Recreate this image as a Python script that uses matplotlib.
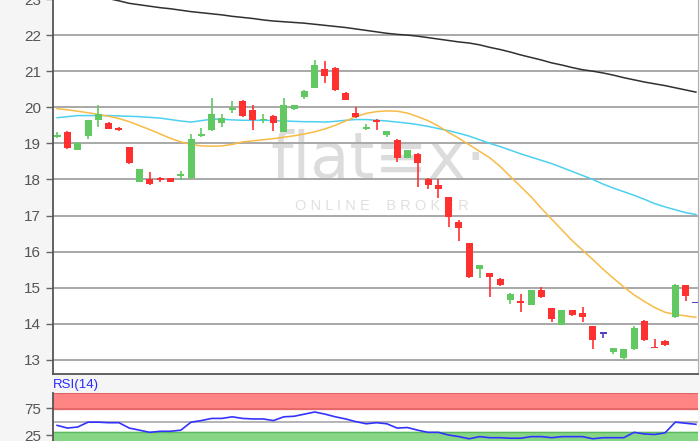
import numpy as np
import matplotlib.pyplot as plt

plt.rcParams['font.family'] = ['Liberation Sans', 'DejaVu Sans']

# OHLC values (one candle per trading day)
opens = [19.17, 19.32, 18.82, 19.20, 19.64, 19.57, 19.43, 18.90, 17.94, 18.00,
         18.05, 18.03, 18.09, 18.03, 19.20, 19.36, 19.56, 19.93, 20.17, 19.93,
         19.64, 19.77, 19.32, 19.94, 20.28, 20.54, 21.07, 21.10, 20.40, 19.85,
         19.39, 19.64, 19.22, 19.09, 18.60, 18.70, 18.02, 17.85, 17.51, 16.81,
         16.23, 15.52, 15.40, 15.24, 14.67, 14.62, 14.53, 14.95, 14.44, 13.97,
         14.37, 14.30, 13.93, 13.72, 13.22, 13.05, 13.29, 14.09, 13.37, 13.52,
         14.18, 15.07, 14.57]
closes = [19.22, 18.87, 19.00, 19.64, 19.80, 19.41, 19.37, 18.46, 18.28, 17.87,
          17.98, 17.93, 18.15, 19.13, 19.25, 19.82, 19.71, 19.98, 19.75, 19.66,
          19.68, 19.57, 20.07, 20.06, 20.46, 21.18, 20.88, 20.49, 20.20, 19.72,
          19.45, 19.58, 19.34, 18.60, 18.81, 18.46, 17.84, 17.73, 16.97, 16.65,
          15.31, 15.63, 15.31, 15.08, 14.83, 14.58, 14.93, 14.74, 14.14, 14.37,
          14.25, 14.18, 13.56, 13.72, 13.33, 13.29, 13.88, 13.54, 13.33, 13.40,
          15.07, 14.77, 14.57]
highs = [19.32, 19.34, 19.04, 19.66, 20.07, 19.58, 19.44, 18.91, 18.29, 18.20,
         18.06, 18.04, 18.23, 19.25, 19.43, 20.25, 19.82, 20.17, 20.20, 20.06,
         19.80, 19.78, 20.26, 20.07, 20.47, 21.32, 21.29, 21.11, 20.41, 20.00,
         19.54, 19.67, 19.35, 19.12, 18.82, 18.72, 18.05, 18.00, 17.52, 16.87,
         16.24, 15.64, 15.41, 15.28, 14.84, 14.83, 14.95, 15.01, 14.45, 14.38,
         14.38, 14.46, 13.94, 13.73, 13.34, 13.30, 13.93, 14.10, 13.58, 13.56,
         15.11, 15.08, 14.57]
lows = [19.15, 18.83, 18.81, 19.12, 19.45, 19.40, 19.34, 18.43, 17.93, 17.85,
        17.93, 17.92, 17.98, 18.02, 19.17, 19.35, 19.45, 19.85, 19.72, 19.38,
        19.57, 19.34, 19.31, 19.93, 20.24, 20.53, 20.67, 20.45, 20.19, 19.71,
        19.38, 19.36, 19.17, 18.48, 18.59, 17.80, 17.73, 17.48, 16.69, 16.30,
        15.27, 15.26, 14.73, 15.04, 14.55, 14.32, 14.52, 14.72, 14.04, 13.96,
        14.21, 14.06, 13.31, 13.60, 13.17, 12.96, 13.28, 13.53, 13.32, 13.39,
        14.17, 14.62, 14.57]

# moving averages
ma_long = [23.35, 23.28, 23.20, 23.13, 23.07, 23.01, 22.95, 22.88, 22.84, 22.80,
           22.76, 22.73, 22.69, 22.65, 22.62, 22.59, 22.56, 22.52, 22.49, 22.46,
           22.42, 22.39, 22.37, 22.35, 22.33, 22.30, 22.27, 22.24, 22.21, 22.17,
           22.13, 22.09, 22.05, 22.02, 22.00, 21.97, 21.93, 21.89, 21.85, 21.81,
           21.78, 21.73, 21.66, 21.60, 21.53, 21.45, 21.38, 21.31, 21.23, 21.17,
           21.10, 21.04, 21.00, 20.95, 20.89, 20.82, 20.76, 20.70, 20.65, 20.60,
           20.54, 20.48, 20.42]
ma_mid = [19.71, 19.74, 19.77, 19.77, 19.77, 19.77, 19.76, 19.75, 19.74, 19.72,
          19.70, 19.66, 19.62, 19.59, 19.63, 19.67, 19.67, 19.65, 19.64, 19.64,
          19.64, 19.63, 19.62, 19.61, 19.60, 19.60, 19.59, 19.61, 19.64, 19.66,
          19.66, 19.64, 19.62, 19.59, 19.56, 19.52, 19.47, 19.41, 19.35, 19.28,
          19.20, 19.10, 19.00, 18.91, 18.81, 18.71, 18.62, 18.53, 18.44, 18.33,
          18.22, 18.11, 18.00, 17.87, 17.76, 17.66, 17.56, 17.45, 17.33, 17.24,
          17.16, 17.08, 17.03]
ma_short = [19.96, 19.93, 19.89, 19.85, 19.80, 19.75, 19.69, 19.60, 19.49, 19.38,
            19.26, 19.14, 19.04, 18.97, 18.93, 18.92, 18.93, 18.97, 19.04, 19.07,
            19.10, 19.13, 19.17, 19.21, 19.26, 19.32, 19.40, 19.50, 19.62, 19.74,
            19.83, 19.88, 19.90, 19.89, 19.84, 19.74, 19.63, 19.48, 19.30, 19.14,
            18.96, 18.78, 18.60, 18.36, 18.08, 17.80, 17.52, 17.20, 16.90, 16.60,
            16.30, 16.04, 15.78, 15.51, 15.26, 15.02, 14.80, 14.62, 14.45, 14.32,
            14.26, 14.22, 14.18]

rsi = [43, 38, 40, 49, 49, 48, 48, 38, 34, 30, 32, 32, 34, 49, 52, 56, 56, 59,
       56, 55, 55, 52, 59, 60, 64, 68, 64, 59, 55, 50, 46, 48, 46, 38, 39, 34,
       30, 30, 25, 22, 18, 22, 20, 20, 19, 19, 22, 22, 20, 22, 22, 22, 18, 20,
       20, 20, 30, 27, 26, 29, 49, 47, 45]

price_ticks = [13, 14, 15, 16, 17, 18, 19, 20, 21, 22, 23]

GREEN = '#62c862'
RED = '#ff3030'
DOJI = '#5040c8'

fig = plt.figure(figsize=(7, 4.41), dpi=100, facecolor='#f5f5f5')
ax = fig.add_axes([0.0757, 0.152, 0.9214, 0.8748])
ax.set_facecolor('white')

x = np.arange(len(opens))
o = np.array(opens)
c = np.array(closes)
colors = [GREEN if cc > oo else (RED if cc < oo else DOJI) for oo, cc in zip(o, c)]

# watermark
ax.text(0.505, 0.555, 'flat\u2261x\u00b7', transform=ax.transAxes, ha='center', va='center',
        fontsize=46, color='#dcdcdc', family='DejaVu Sans', zorder=0)
ax.text(0.51, 0.435, 'O N L I N E    B R O K E R', transform=ax.transAxes, ha='center',
        va='center', fontsize=10.5, color='#e0e0e0', zorder=0)

ax.vlines(x, lows, highs, colors=colors, linewidth=1.2, zorder=3)
body = np.maximum(np.abs(c - o), 0.04)
ax.bar(x, body, bottom=np.minimum(o, c), width=0.68, color=colors, linewidth=0, zorder=4)

ax.plot(x, ma_long, color='#303030', linewidth=1.1, zorder=2)
ax.plot(x, ma_mid, color='#4dd0f0', linewidth=1.1, zorder=2)
ax.plot(x, ma_short, color='#f8bb45', linewidth=1.1, zorder=2)

ax.set_xlim(-0.4, 62.2)
ax.set_ylim(12.61, 23.3)
ax.set_yticks(price_ticks)
ax.yaxis.grid(True, color='#a8a8a8', linewidth=1.4)
ax.set_axisbelow(True)
ax.set_xticks([])
ax.tick_params(axis='y', colors='#666666', labelcolor='#555555', labelsize=11, length=5, width=1)
for s in ['left', 'bottom']:
    ax.spines[s].set_color('#555555')
    ax.spines[s].set_linewidth(1.3)
ax.spines['right'].set_color('#b0b0b0')
ax.spines['top'].set_visible(False)

# RSI panel
ax2 = fig.add_axes([0.0757, -0.0168, 0.9214, 0.1263])
ax2.set_facecolor('white')
ax2.set_xlim(-0.4, 62.2)
ax2.set_ylim(0, 104)
ax2.axhspan(74, 104, color='#ff8484', zorder=1)
ax2.axhline(74, color='#e06464', linewidth=1.2, zorder=1)
ax2.axhline(103, color='#e06464', linewidth=1.5, zorder=1)
ax2.axhspan(0, 31, color='#86d686', zorder=1)
ax2.axhline(31, color='#5cb85c', linewidth=1.0, zorder=1)
ax2.axhline(50, color='#a8a8a8', linewidth=1.2, zorder=1)
ax2.plot(x, rsi, color='#3333ff', linewidth=1.2, zorder=3)
ax2.set_yticks([25, 75])
ax2.set_xticks([])
ax2.tick_params(axis='y', colors='#666666', labelcolor='#555555', labelsize=11, length=5, width=1)
ax2.spines['left'].set_color('#555555')
ax2.spines['left'].set_linewidth(1.3)
for s in ['top', 'right', 'bottom']:
    ax2.spines[s].set_visible(False)
fig.text(0.0757, 0.113, 'RSI(14)', color='#2a2aff', fontsize=9.5, ha='left', va='bottom')

fig.savefig('out.png', dpi=100, facecolor=fig.get_facecolor())
